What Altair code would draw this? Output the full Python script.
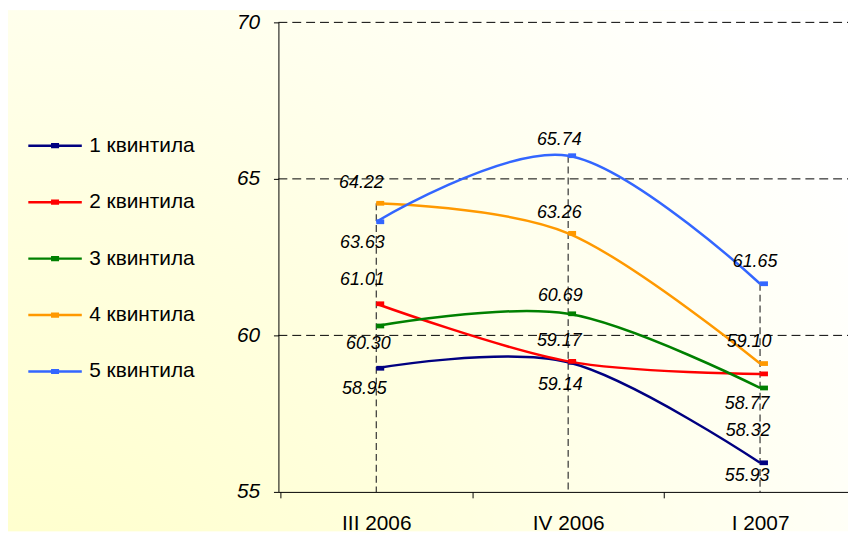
import altair as alt
import pandas as pd

# ---- data ----
periods = ["III 2006", "IV 2006", "I 2007"]
series = ["1 квинтила", "2 квинтила", "3 квинтила", "4 квинтила", "5 квинтила"]
q1 = [58.95, 59.14, 55.93]
q2 = [61.01, 59.17, 58.77]
q3 = [60.30, 60.69, 58.32]
q4 = [64.22, 63.26, 59.10]
q5 = [63.63, 65.74, 61.65]
y_ticks = [55, 60, 65, 70]
grid_values = [60, 65, 70]

# ---- styles ----
colors = ["#000080", "#FF0000", "#008000", "#FF9900", "#3366FF"]
FONT = "Liberation Sans"
# label (dx, dy) offsets in pixels, per series, per period
label_offsets = [
    [(-12, 21), (-8, 23), (-13, 13)],
    [(-14, -24), (-9, -21), (-13, 30)],
    [(-8, 18), (-8, -18), (-12, 43)],
    [(-15, -20), (-9, -20), (-11, -22)],
    [(-14, 21), (-9, -16), (-5, -22)],
]

rows = []
for s, vals in zip(series, [q1, q2, q3, q4, q5]):
    for i, (p, v) in enumerate(zip(periods, vals)):
        rows.append({"series": s, "period": p, "idx": i, "value": v,
                     "label": f"{v:.2f}", "key": f"{s}|{p}"})
df = pd.DataFrame(rows)

W, H = 585, 474
PAD = {"left": 273, "top": 12, "right": -10, "bottom": 40}

x_enc = alt.X("period:N", sort=periods,
              scale=alt.Scale(paddingInner=0, paddingOuter=0.01),
              axis=alt.Axis(title=None, labelAngle=0, tickBand="extent",
                            domainColor="black", domainWidth=1,
                            tickColor="black", tickSize=6, tickWidth=1,
                            labelFont=FONT, labelFontSize=21, labelColor="black",
                            labelPadding=15, grid=False, zindex=2))
y_scale = alt.Scale(domain=[55, 70], nice=False, zero=False)
y_axis = alt.Axis(values=y_ticks, title=None, grid=False,
                  domainColor="black", domainWidth=1,
                  tickColor="black", tickSize=5, tickWidth=1,
                  labelFont=FONT, labelFontStyle="italic", labelFontSize=21,
                  labelColor="black", labelPadding=14, format="d", zindex=2)
y_enc = alt.Y("value:Q", scale=y_scale, axis=y_axis)

base = alt.Chart(df)

bg = alt.Chart(alt.Data(values=[{"a": 1}])).mark_rect(
    fill=alt.RadialGradient(
        gradient="radial",
        stops=[alt.GradientStop(offset=0, color="#FFFFC6"),
               alt.GradientStop(offset=0.5, color="#FFFFE0"),
               alt.GradientStop(offset=1, color="#FFFFFF")],
        x1=0, y1=1, r1=0, x2=0, y2=1, r2=1.15),
).encode(x=alt.value(-PAD["left"]), x2=alt.value(W + 10),
         y=alt.value(-PAD["top"]), y2=alt.value(H + PAD["bottom"]))

grid = alt.Chart(pd.DataFrame({"g": grid_values})).mark_rule(
    color="black", strokeWidth=1, strokeDash=[9, 5]).encode(
    y=alt.Y("g:Q", scale=y_scale, axis=y_axis),
    x=alt.value(0), x2=alt.value(W + 10))

drops = base.mark_rule(color="#333333", strokeWidth=1.2, strokeDash=[7, 4]).encode(
    x=x_enc, y=alt.Y("max(value):Q", scale=y_scale, axis=y_axis), y2=alt.datum(55))

legend_path = "M-1,0H1M-0.15,-0.05H0.15M-0.15,0.05H0.15"
lines = base.mark_line(interpolate="cardinal", strokeWidth=2.5).encode(
    x=x_enc, y=y_enc,
    color=alt.Color("series:N", sort=series,
                    scale=alt.Scale(domain=series, range=colors),
                    legend=alt.Legend(title=None, orient="none", legendX=-254, legendY=96,
                                      symbolType=legend_path, symbolSize=2916,
                                      symbolStrokeWidth=2.5, symbolOffset=0,
                                      labelFont=FONT, labelFontSize=21,
                                      labelColor="black", labelOffset=6,
                                      rowPadding=18, padding=0)),
    order=alt.Order("idx:Q"))

marker_path = "M0,-0.6H2V0.6H0Z"
points = base.mark_point(shape=marker_path, size=64, filled=True, opacity=1,
                         strokeWidth=0).encode(
    x=x_enc, y=y_enc,
    fill=alt.Fill("series:N", scale=alt.Scale(domain=series, range=colors), legend=None))

label_layers = []
for si, s in enumerate(series):
    for pi, p in enumerate(periods):
        dx, dy = label_offsets[si][pi]
        label_layers.append(
            base.transform_filter(alt.FieldEqualPredicate(field="key", equal=f"{s}|{p}"))
            .mark_text(dx=dx, dy=dy, font=FONT, fontStyle="italic", fontSize=18,
                       color="black", align="center", baseline="middle")
            .encode(x=x_enc, y=y_enc, text="label:N"))

chart = alt.layer(bg, grid, drops, lines, points, *label_layers).properties(
    width=W, height=H, padding=PAD,
    autosize=alt.AutoSizeParams(type="none"),
).configure_view(strokeWidth=0).configure(background="#FFFFFF")

chart.save("out.html", embed_options={"renderer": "svg", "actions": False})
